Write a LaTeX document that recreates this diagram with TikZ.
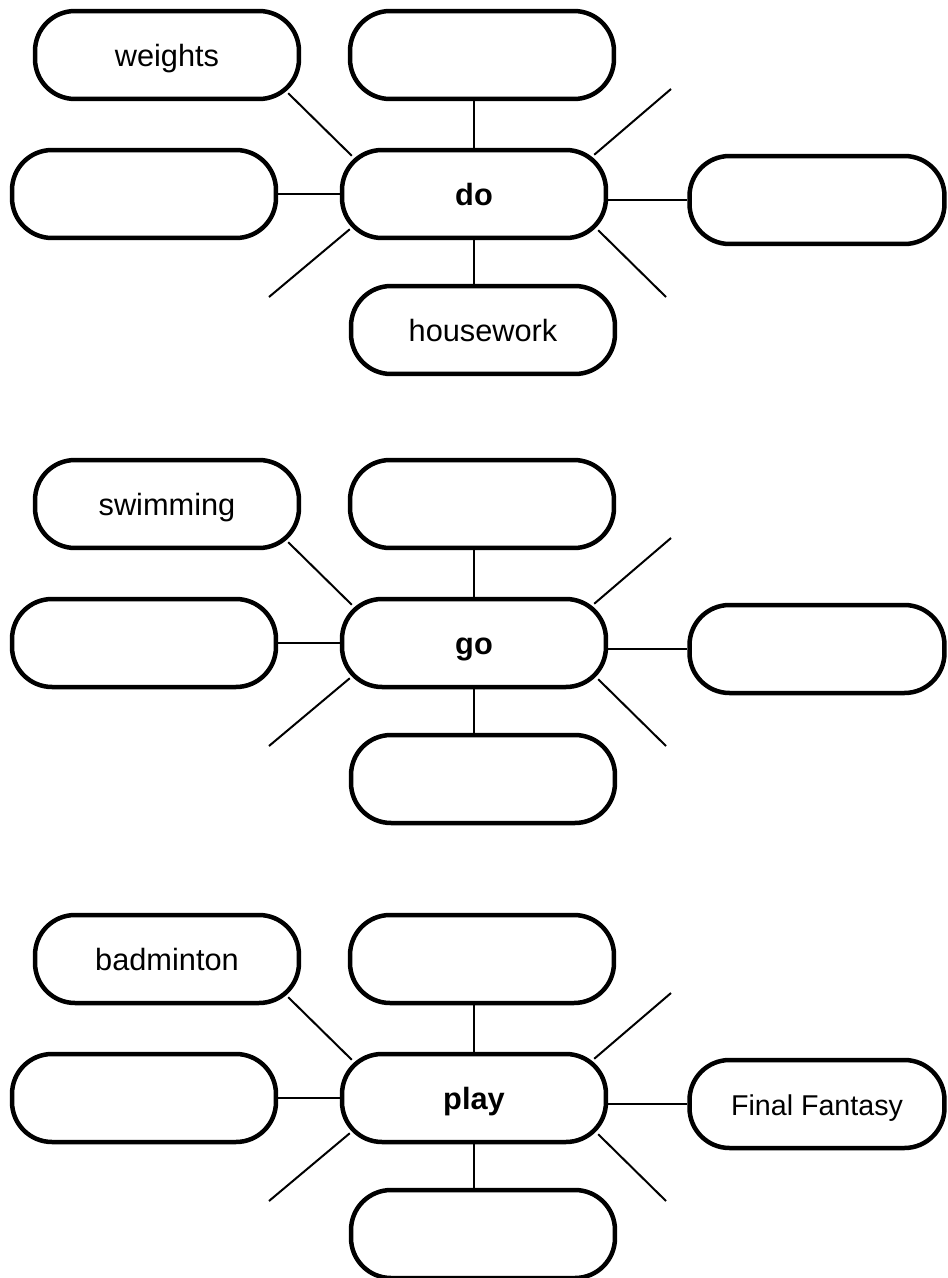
\documentclass[tikz,border=0pt]{standalone}
\usepackage{fontspec}
\setmainfont{Liberation Sans}
\usetikzlibrary{calc}

\begin{document}
\begin{tikzpicture}[
            x = 0.02cm, y = -0.02cm, % one unit per pixel, going down
            every node/.style = {font=\fontsize{17.5}{21}\selectfont},
            bubble/.style = {draw=black, fill=white, line width=0.09cm,
                rounded corners=0.8cm, minimum width=5.28cm, minimum height=1.76cm,
                inner sep=0pt, text height=12.6pt, text depth=0pt}, % word box
            hub/.style = {bubble, font=\fontsize{17.5}{21}\selectfont\bfseries}, % verb in the middle
            spoke/.style = {line width=0.04cm} % line style
        ]
\useasboundingbox (0,0) rectangle (947,1278);

% do
\begin{scope}
\node[hub] (do) at (474,194) {do};
\node[bubble] (doUL) at (167,55) {weights};
\node[bubble] (doU) at (482,55) {};
\node[bubble] (doL) at (144,194) {};
\node[bubble, minimum width=5.1cm] (doR) at (817,200) {};
\node[bubble] (doB) at (483,330) {housework};
\coordinate (doNE) at (671,89);
\coordinate (doSW) at (269,297);
\coordinate (doSE) at (666,297);

 \draw[spoke] ($(doUL.south east)+(-13,-8)$) -- ($(do.north west)+(12,8)$);
 \draw[spoke] (do.north) -- (do.north |- doU.south);
 \draw[spoke] ($(do.north east)+(-14,7)$) -- (doNE);
 \draw[spoke] (doL) -- (do);
 \draw[spoke] (doR.west -| do.east) -- (doR.west);
 \draw[spoke] ($(do.south west)+(10,-11)$) -- (doSW);
 \draw[spoke] (do.south) -- (do.south |- doB.north);
 \draw[spoke] ($(do.south east)+(-10,-10)$) -- (doSE);
\end{scope}

% go
\begin{scope}[shift={(0,449)}]
\node[hub] (go) at (474,194) {go};
\node[bubble] (goUL) at (167,55) {swimming};
\node[bubble] (goU) at (482,55) {};
\node[bubble] (goL) at (144,194) {};
\node[bubble, minimum width=5.1cm] (goR) at (817,200) {};
\node[bubble] (goB) at (483,330) {};
\coordinate (goNE) at (671,89);
\coordinate (goSW) at (269,297);
\coordinate (goSE) at (666,297);

 \draw[spoke] ($(goUL.south east)+(-13,-8)$) -- ($(go.north west)+(12,8)$);
 \draw[spoke] (go.north) -- (go.north |- goU.south);
 \draw[spoke] ($(go.north east)+(-14,7)$) -- (goNE);
 \draw[spoke] (goL) -- (go);
 \draw[spoke] (goR.west -| go.east) -- (goR.west);
 \draw[spoke] ($(go.south west)+(10,-11)$) -- (goSW);
 \draw[spoke] (go.south) -- (go.south |- goB.north);
 \draw[spoke] ($(go.south east)+(-10,-10)$) -- (goSE);
\end{scope}

% play
\begin{scope}[shift={(0,904)}]
\node[hub] (play) at (474,194) {play};
\node[bubble] (playUL) at (167,55) {badminton};
\node[bubble] (playU) at (482,55) {};
\node[bubble] (playL) at (144,194) {};
\node[bubble, minimum width=5.1cm, font=\fontsize{16.3}{20}\selectfont] (playR) at (817,200) {Final Fantasy};
\node[bubble] (playB) at (483,330) {};
\coordinate (playNE) at (671,89);
\coordinate (playSW) at (269,297);
\coordinate (playSE) at (666,297);

 \draw[spoke] ($(playUL.south east)+(-13,-8)$) -- ($(play.north west)+(12,8)$);
 \draw[spoke] (play.north) -- (play.north |- playU.south);
 \draw[spoke] ($(play.north east)+(-14,7)$) -- (playNE);
 \draw[spoke] (playL) -- (play);
 \draw[spoke] (playR.west -| play.east) -- (playR.west);
 \draw[spoke] ($(play.south west)+(10,-11)$) -- (playSW);
 \draw[spoke] (play.south) -- (play.south |- playB.north);
 \draw[spoke] ($(play.south east)+(-10,-10)$) -- (playSE);
\end{scope}
\end{tikzpicture}
\end{document}
